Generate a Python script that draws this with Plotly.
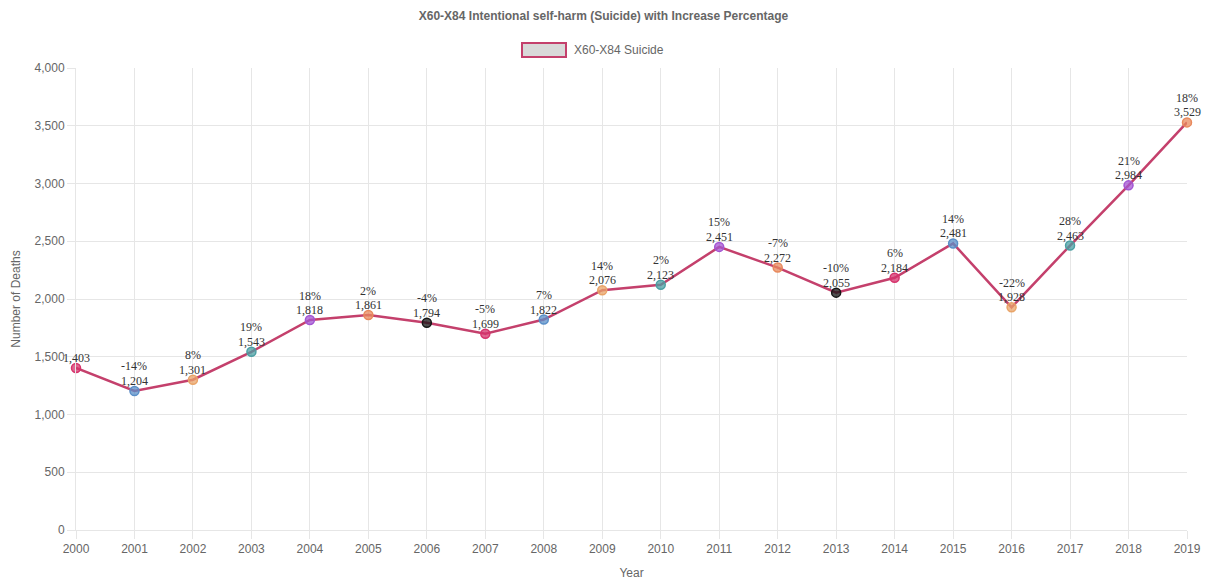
import plotly.graph_objects as go

years = [2000, 2001, 2002, 2003, 2004, 2005, 2006, 2007, 2008, 2009,
         2010, 2011, 2012, 2013, 2014, 2015, 2016, 2017, 2018, 2019]
deaths = [1403, 1204, 1301, 1543, 1818, 1861, 1794, 1699, 1822, 2076,
          2123, 2451, 2272, 2055, 2184, 2481, 1928, 2463, 2984, 3529]
pct_change = [None, -14, 8, 19, 18, 2, -4, -5, 7, 14,
              2, 15, -7, -10, 6, 14, -22, 28, 21, 18]

palette = [(214, 51, 108), (90, 143, 200), (233, 164, 104), (75, 159, 163),
           (163, 85, 211), (232, 137, 92), (22, 22, 22)]
marker_rgb = [palette[i % len(palette)] for i in range(len(years))]
marker_fill = [f"rgba({r},{g},{b},0.75)" for r, g, b in marker_rgb]
marker_edge = [f"rgb({r},{g},{b})" for r, g, b in marker_rgb]

LINE = "#c4406c"

fig = go.Figure()
fig.add_trace(go.Scatter(
    x=years, y=deaths, mode="lines+markers",
    line=dict(color=LINE, width=2.5),
    marker=dict(size=9, color=marker_fill, line=dict(color=marker_edge, width=1.5)),
    showlegend=False, cliponaxis=False, hoverinfo="x+y",
))

label_font = dict(family="Liberation Serif, Times New Roman, serif", size=12, color="#333333")
for x, y, p in zip(years, deaths, pct_change):
    fig.add_annotation(x=x, y=y, xref="x", yref="y", text=f"{y:,}", showarrow=False,
                       xanchor="center", yanchor="middle", yshift=10, font=label_font)
    if p is not None:
        fig.add_annotation(x=x, y=y, xref="x", yref="y", text=f"{p}%", showarrow=False,
                           xanchor="center", yanchor="middle", yshift=24.5, font=label_font)

W, H = 1207, 584
L, R, T, B = 76, 20, 68, 54
pw, ph = W - L - R, H - T - B

def px_x(px):
    return (px - L) / pw

def px_y(py):
    return (H - B - py) / ph

fig.add_shape(type="rect", xref="paper", yref="paper",
              x0=px_x(522), x1=px_x(566), y0=px_y(57), y1=px_y(43),
              fillcolor="#d9d9d9", line=dict(color=LINE, width=2))
fig.add_annotation(xref="paper", yref="paper", x=px_x(572), y=px_y(50),
                   xanchor="left", yanchor="middle", showarrow=False,
                   text="X60-X84 Suicide",
                   font=dict(family="Liberation Sans, Arial, sans-serif", size=12, color="#666666"))

grid = "#e6e6e6"
fig.update_layout(
    width=W, height=H,
    margin=dict(l=L, r=R, t=T, b=B, autoexpand=False),
    paper_bgcolor="white", plot_bgcolor="white",
    font=dict(family="Liberation Sans, Arial, sans-serif", size=12, color="#666666"),
    title=dict(text="<b>X60-X84 Intentional self-harm (Suicide) with Increase Percentage</b>",
               x=603.5 / W, xref="container", xanchor="center",
               y=1 - 16 / H, yref="container", yanchor="middle",
               font=dict(size=12, color="#666666")),
    xaxis=dict(range=[2000, 2019], tickmode="array", tickvals=years,
               ticktext=[str(y) for y in years],
               showgrid=True, gridcolor=grid, ticks="outside", ticklen=8, tickcolor=grid,
               showline=True, linecolor=grid, zeroline=False, automargin=False,
               title=dict(text="Year", standoff=13, font=dict(size=12, color="#666666"))),
    yaxis=dict(range=[0, 4000], tickvals=[0, 500, 1000, 1500, 2000, 2500, 3000, 3500, 4000],
               tickformat=",d",
               showgrid=True, gridcolor=grid, ticks="outside", ticklen=8, tickcolor=grid,
               showline=True, linecolor=grid, zeroline=False, automargin=False,
               title=dict(text="Number of Deaths", standoff=11, font=dict(size=12, color="#666666"))),
)

fig.write_html(
    "out.html",
    config={"displayModeBar": False},
    post_script="document.body.style.margin='0';document.body.style.overflow='hidden';",
)
